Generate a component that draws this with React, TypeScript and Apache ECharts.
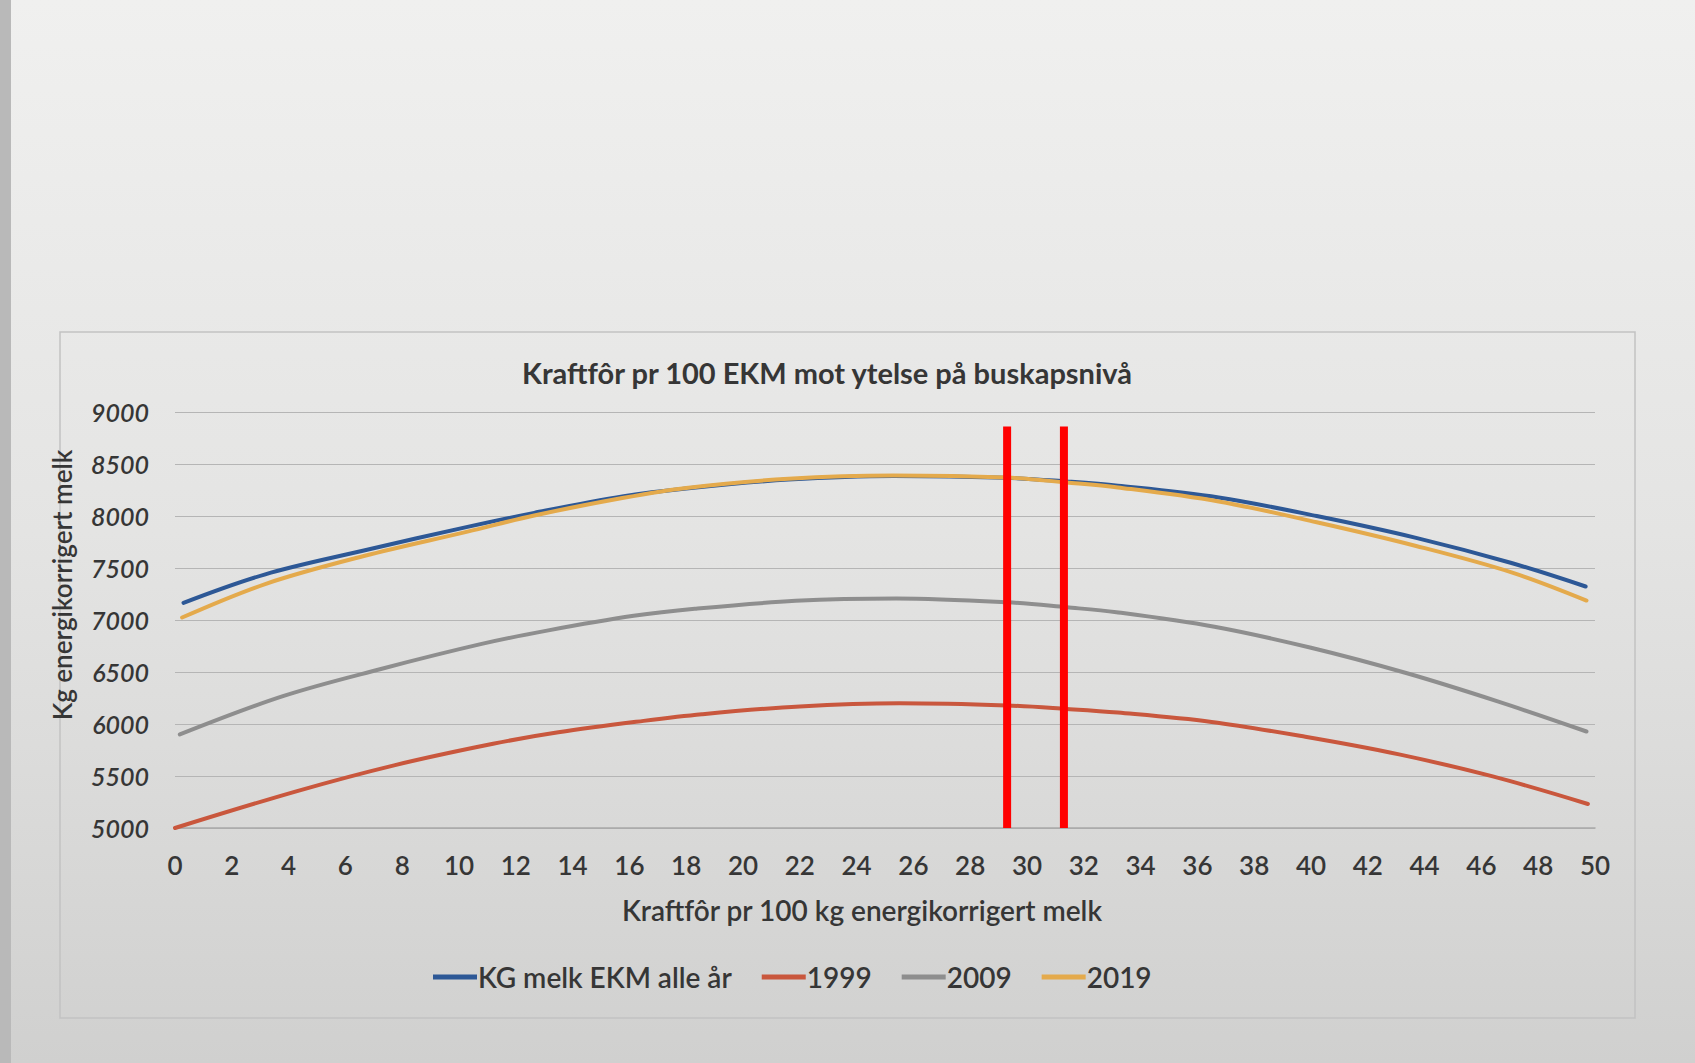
import React, { useEffect, useRef } from "react";
import * as echarts from "echarts";

// ---- data ----
const seriesNames = ["KG melk EKM alle år", "1999", "2009", "2019"];

const blueX = [0.3, 3.15, 6.65, 10.3, 12.65, 15.8, 18.0, 21.6, 25.3, 29.25, 31.4, 33.2, 36.75, 40.2, 43.7, 47.06, 49.67];
const blueY = [7165, 7437, 7668, 7895, 8030, 8190, 8265, 8350, 8385, 8368, 8332, 8292, 8178, 8000, 7790, 7548, 7322];

const redX = [0, 4.3, 7.75, 11.2, 13.5, 16.5, 18.55, 22.0, 25.5, 29.3, 31.4, 33.2, 36.5, 39.8, 43.1, 46.4, 49.75];
const redY = [5000, 5355, 5605, 5810, 5920, 6030, 6094, 6169, 6199, 6178, 6145, 6110, 6020, 5877, 5708, 5496, 5231];

const greyX = [0.17, 3.8, 7.25, 10.8, 13.1, 16.15, 18.3, 21.85, 25.4, 29.3, 31.4, 33.15, 36.6, 40.0, 43.35, 46.6, 49.7];
const greyY = [5900, 6268, 6529, 6770, 6898, 7040, 7108, 7184, 7207, 7170, 7122, 7075, 6935, 6733, 6490, 6215, 5928];

const orangeX = [0.25, 3.2, 6.65, 10.3, 12.65, 15.8, 18.0, 21.6, 25.3, 29.25, 31.4, 33.2, 36.75, 40.2, 43.7, 47.06, 49.7];
const orangeY = [7024, 7348, 7615, 7850, 8005, 8175, 8270, 8358, 8390, 8370, 8322, 8275, 8140, 7940, 7712, 7458, 7187];

const markerX = [29.3, 31.3];
const markerRange = [5000, 8860];

const yTicks = { min: 5000, max: 9000, step: 500 };
const xTicks = { min: 0, max: 50, step: 2 };

const colors = ["#2d5896", "#c9573d", "#8e8e8e", "#e4aa4c"];

const zip = (xs: number[], ys: number[]) => xs.map((x, i) => [x, ys[i]]);

export default function App() {
  const ref = useRef<HTMLDivElement>(null);

  useEffect(() => {
    document.body.style.margin = "0";
    const chart = echarts.init(ref.current!, undefined, { renderer: "svg" });
    const font = "Lato, 'Open Sans', 'DejaVu Sans', sans-serif";
    const textColor = "#363636";

    const dataSets = [zip(blueX, blueY), zip(redX, redY), zip(greyX, greyY), zip(orangeX, orangeY)];

    const mainSeries = seriesNames.map((name, i) => ({
      name,
      type: "line",
      data: dataSets[i],
      smooth: 0.35,
      showSymbol: false,
      symbol: "none",
      lineStyle: { width: 4, color: colors[i], cap: "round" },
      itemStyle: { color: colors[i] },
      z: 3 + i,
    }));

    const markerSeries = markerX.map((x, i) => ({
      name: "marker" + i,
      type: "line",
      data: [
        [x, markerRange[0]],
        [x, markerRange[1]],
      ],
      showSymbol: false,
      symbol: "none",
      lineStyle: { width: 8, color: "#ff0000" },
      z: 10,
      silent: true,
    }));

    chart.setOption({
      animation: false,
      backgroundColor: {
        type: "linear",
        x: 0,
        y: 0,
        x2: 0,
        y2: 1,
        colorStops: [
          { offset: 0, color: "#f0f0ef" },
          { offset: 0.5, color: "#e4e4e3" },
          { offset: 1, color: "#d0d0cf" },
        ],
      },
      graphic: [
        {
          type: "rect",
          shape: { x: 0, y: 0, width: 11, height: 1063 },
          style: { fill: "#b9b9b9" },
          silent: true,
        },
        {
          type: "rect",
          shape: { x: 60, y: 332, width: 1575, height: 686 },
          style: { fill: "none", stroke: "#c2c2c2", lineWidth: 1.5 },
          silent: true,
        },
        {
          type: "text",
          x: 827,
          y: 372,
          style: {
            text: "Kraftfôr pr 100 EKM mot ytelse på buskapsnivå",
            font: `bold 29px ${font}`,
            fill: textColor,
            textAlign: "center",
            textVerticalAlign: "middle",
          },
        },
        {
          type: "text",
          x: 862,
          y: 910,
          style: {
            text: "Kraftfôr pr 100 kg energikorrigert melk",
            font: `600 28px ${font}`,
            fill: textColor,
            textAlign: "center",
            textVerticalAlign: "middle",
          },
        },
        {
          type: "text",
          x: 62,
          y: 585,
          rotation: Math.PI / 2,
          style: {
            text: "Kg energikorrigert melk",
            font: `600 26px ${font}`,
            fill: textColor,
            textAlign: "center",
            textVerticalAlign: "middle",
          },
        },
      ],
      grid: { left: 175, right: 100, top: 412, bottom: 235, containLabel: false },
      legend: {
        data: seriesNames,
        left: 428,
        top: 958,
        icon: "rect",
        itemWidth: 44,
        itemHeight: 5,
        itemGap: 30,
        textStyle: { fontFamily: font, fontSize: 28, color: textColor, fontWeight: 600, padding: [0, 0, 0, -4] },
      },
      xAxis: {
        type: "value",
        min: xTicks.min,
        max: xTicks.max,
        interval: xTicks.step,
        axisLine: { show: true, lineStyle: { color: "#a9a9a9", width: 1.5 } },
        axisTick: { show: false },
        splitLine: { show: false },
        axisLabel: { fontFamily: font, fontSize: 26, fontWeight: 600, color: textColor, margin: 24 },
      },
      yAxis: {
        type: "value",
        min: yTicks.min,
        max: yTicks.max,
        interval: yTicks.step,
        axisLine: { show: false },
        axisTick: { show: false },
        splitLine: { show: true, lineStyle: { color: "#b5b5b5", width: 1.2 } },
        axisLabel: {
          fontFamily: font,
          fontSize: 25,
          fontWeight: 600,
          fontStyle: "italic",
          color: textColor,
          margin: 26,
          formatter: (v: number) => String(v),
        },
      },
      series: [...mainSeries, ...markerSeries],
    });

    return () => chart.dispose();
  }, []);

  return (
    <div
      ref={ref}
      style={{ position: "fixed", left: 0, top: 0, width: 1695, height: 1063 }}
    />
  );
}
